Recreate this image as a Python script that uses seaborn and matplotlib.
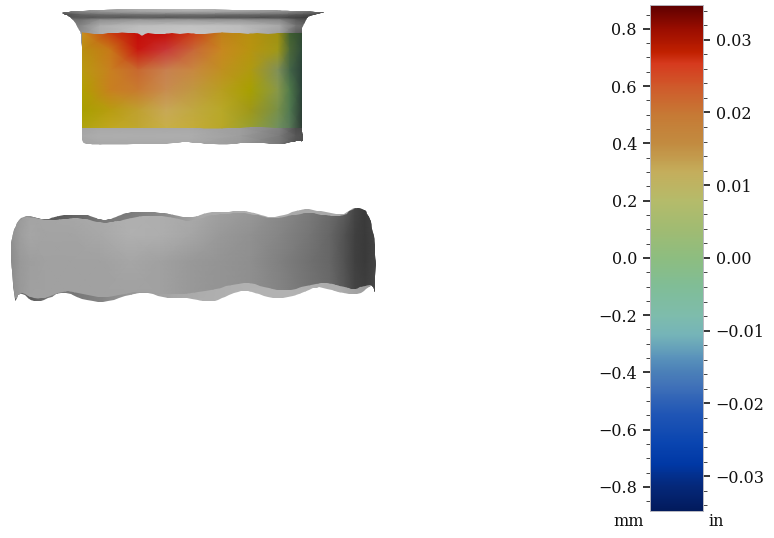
import numpy as np
import matplotlib
matplotlib.use("Agg")
import matplotlib.pyplot as plt
from matplotlib.colors import LinearSegmentedColormap, to_rgb
from matplotlib.patches import Polygon
from matplotlib.ticker import MultipleLocator
import seaborn as sns

# ---- colour scale ----
scale_limit_mm = 0.885
mm_per_inch = 25.4
scale_levels = [-0.885, -0.80, -0.72, -0.65, -0.55, -0.45, -0.40, -0.35, -0.27, -0.20, -0.10, 0.0,
                0.10, 0.20, 0.30, 0.40, 0.50, 0.60, 0.68, 0.72, 0.80, 0.885]
scale_colors = ["#021a5c", "#05287a", "#0038a5", "#0a45b0", "#1f55b5", "#3f70b8", "#4b80b8", "#5a93bb",
                "#75b4b8", "#7ebcac", "#80bd96", "#8dbd80", "#a0bb72", "#b5bb6a", "#c4ae5c", "#c28b40",
                "#c67a35", "#cf5a2b", "#d63a1e", "#c02000", "#9c0e00", "#5e0000"]

# ---- cup: grey surface ----
cup_x = [62, 80, 100, 140, 190, 240, 280, 296, 310, 324]
cup_y = [9, 12, 15, 17.5, 20, 26, 34, 128, 136, 144]
cup_gray = [
    [.50, .56, .62, .68, .72, .68, .62, .56, .50, .45],
    [.42, .52, .58, .64, .66, .62, .56, .50, .44, .38],
    [.28, .38, .42, .44, .44, .42, .40, .34, .30, .28],
    [.34, .34, .34, .34, .34, .32, .30, .26, .24, .24],
    [.46, .44, .56, .60, .60, .58, .52, .36, .30, .30],
    [.50, .52, .68, .74, .76, .74, .66, .46, .38, .36],
    [.52, .56, .68, .76, .78, .74, .62, .36, .30, .30],
    [.62, .64, .66, .66, .66, .62, .50, .30, .28, .28],
    [.66, .66, .68, .68, .68, .62, .48, .34, .30, .30],
    [.60, .64, .66, .66, .66, .60, .46, .32, .28, .28],
]
cup_outline_x = [61, 61, 68, 75, 122, 190, 257, 310, 324, 324, 316, 307, 303, 301.5, 301.5, 303, 303, 299, 292, 284, 275, 258, 242,
                 225, 208, 196, 185, 165, 142, 118, 95, 88, 82, 82, 82, 81, 78, 72, 66]
cup_outline_y = [13, 13, 11.5, 11, 9, 9, 10, 11, 12.5, 12.5, 14.5, 17, 25, 34, 128, 135, 142, 141, 142, 144, 144, 143, 143,
                 145, 144, 143, 142, 144, 144, 145, 145, 144, 143, 128, 54, 34, 27, 18, 15]

# ---- cup: coloured band ----
band_x = [82, 110, 138, 166, 194, 222, 250, 278, 290, 302]
band_y = [33, 50, 70, 90, 110, 128]
band_colors = [
    ["#c8901e", "#c84010", "#c40c08", "#c41008", "#cc4018", "#c08018", "#b89010", "#a09010", "#405f30", "#304a30"],
    ["#b89010", "#c87818", "#c81810", "#c83838", "#c86838", "#c88820", "#b89410", "#a09818", "#4c6838", "#2f4a3a"],
    ["#b89a10", "#c88020", "#c86830", "#c88050", "#c88840", "#c09020", "#b09a10", "#80905a", "#446548", "#2a4038"],
    ["#b0a000", "#c88020", "#c87a30", "#c88c50", "#c09840", "#b89e20", "#a8a000", "#88984a", "#507a4a", "#2a4038"],
    ["#a8a000", "#b89c10", "#c0a030", "#c8a858", "#c0a840", "#b8a828", "#a09818", "#78904a", "#507850", "#2a3c34"],
    ["#b0a410", "#c0a820", "#c0a830", "#c8b048", "#c4ac38", "#b8a828", "#98a030", "#709060", "#587858", "#2d3a34"],
]
band_outline_x = [82, 88, 94, 98, 103, 108, 113, 118, 122, 128, 135, 139, 142, 145, 148, 155, 165, 172, 180, 188, 196, 205, 214, 223,
                  232, 240, 248, 257, 268, 280, 290, 301.5, 301.5, 292, 275, 262, 250, 240, 228, 218, 208, 200, 150, 82]
band_outline_y = [32, 33, 33.5, 34, 34, 33, 33, 32.5, 32, 33, 33, 33.5, 36, 34, 33, 34, 34, 33, 33.5, 33, 34, 34, 33, 32,
                  33, 33, 33.5, 33, 33.5, 33, 33, 33, 128, 128, 128, 127, 127, 128, 128, 129, 129.5, 128, 128, 128]

# ---- ring: back rim ----
rim_x = [10, 30, 55, 75, 100, 135, 170, 200, 250, 300, 340, 376]
rim_y = [205, 305]
rim_gray = [
    [.60, .62, .33, .38, .46, .48, .55, .66, .68, .66, .66, .50],
    [.35, .35, .50, .48, .52, .62, .66, .68, .70, .70, .68, .60],
]
rim_outline_x = [20, 30, 38, 45, 55, 80, 92, 102, 112, 122, 132, 152, 172, 190, 210, 227, 243, 260, 273, 290, 307, 323, 343,
                 353, 363, 370, 376, 375, 375, 372, 363, 347, 323, 313, 290, 270, 253, 240, 223, 210, 190, 165, 145, 128, 105,
                 85, 63, 45, 33, 20, 15, 15, 10, 13]
rim_outline_y = [217, 216, 218, 220, 216, 214, 216, 220, 219, 214, 212, 212, 214, 218, 212, 212, 210, 214, 218, 213, 208, 212, 215,
                 208, 208, 217, 248, 293, 293, 283, 293, 295, 287, 288, 298, 298, 292, 290, 298, 302, 298, 298, 292, 295, 303,
                 300, 291, 300, 302, 291, 302, 302, 250, 232]

# ---- ring: front surface ----
ring_x = [10, 20, 30, 45, 70, 100, 130, 160, 190, 220, 250, 280, 310, 330, 345, 355, 365, 376]
ring_y = [208, 235, 262, 298]
ring_gray = [
    [.56, .60, .64, .65, .66, .67, .69, .68, .67, .63, .60, .54, .48, .42, .36, .27, .23, .29],
    [.56, .62, .65, .64, .64, .66, .69, .68, .65, .60, .57, .52, .46, .40, .32, .25, .23, .27],
    [.54, .60, .62, .63, .63, .63, .65, .63, .60, .58, .56, .50, .44, .40, .32, .25, .23, .27],
    [.56, .60, .63, .63, .63, .63, .63, .63, .60, .58, .56, .52, .46, .42, .34, .27, .25, .29],
]
ring_outline_x = [20, 38, 47, 72, 88, 102, 115, 128, 152, 178, 190, 210, 227, 243, 260, 273, 290, 307, 323, 343,
                  353, 363, 370, 376, 375, 375, 372, 353, 350, 323, 303, 283, 267, 247, 223, 203, 172, 145, 128, 105, 85, 65,
                  45, 33, 20, 15, 15, 10, 13]
ring_outline_y = [217, 218, 221, 218, 219, 223, 222, 218, 215, 218, 222, 215, 214, 212, 216, 219, 216, 212, 215, 217,
                  208, 208, 217, 248, 293, 293, 283, 290, 288, 282, 287, 291, 288, 282, 287, 292, 295, 291, 293, 298, 295, 290,
                  298, 299, 291, 302, 302, 250, 232]

# ---- tick labels ----
mm_ticks = [-0.8, -0.6, -0.4, -0.2, 0.0, 0.2, 0.4, 0.6, 0.8]
inch_ticks = [-0.03, -0.02, -0.01, 0.00, 0.01, 0.02, 0.03]
left_unit = "mm"
right_unit = "in"

sns.set_theme(style="white")
plt.rcParams["font.family"] = ["DejaVu Serif"]

W, H = 774, 538
fig = plt.figure(figsize=(W / 100, H / 100), dpi=100, facecolor="white")
ax = fig.add_axes([0, 0, 1, 1])
ax.set_axis_off()


def rounded(ox, oy, passes):
    """Corner-cut a closed outline so it renders as a soft edge."""
    pts = np.column_stack([ox, oy]).astype(float)
    for _ in range(passes):
        nxt = np.roll(pts, -1, axis=0)
        pts = np.column_stack([0.75 * pts + 0.25 * nxt, 0.25 * pts + 0.75 * nxt]).reshape(-1, 2)
    return pts


def surface(x, y, field, ox, oy, z, passes=0):
    arr = np.asarray(field, dtype=float)
    clip = Polygon(rounded(ox, oy, passes), closed=True, transform=ax.transData,
                   facecolor="none", edgecolor="none")
    ax.add_patch(clip)
    kw = dict(cmap="gray", vmin=0, vmax=1) if arr.ndim == 2 else {}
    mesh = ax.pcolormesh(x, y, arr, shading="gouraud", zorder=z, **kw)
    mesh.set_clip_path(clip)


surface(cup_x, cup_y, cup_gray, cup_outline_x, cup_outline_y, 2, passes=2)
band_rgb = [[to_rgb(c) for c in row] for row in band_colors]
surface(band_x, band_y, band_rgb, band_outline_x, band_outline_y, 3)
surface(rim_x, rim_y, rim_gray, rim_outline_x, rim_outline_y, 2, passes=2)
surface(ring_x, ring_y, ring_gray, ring_outline_x, ring_outline_y, 3, passes=2)
ax.set_xlim(0, W)
ax.set_ylim(H, 0)

# colourbar: heatmap, with two overlaid axes carrying the scales
bar_pos = [649.5 / W, 1 - 511.3 / H, (703 - 649.5) / W, (511.3 - 4.5) / H]
ax_bar = fig.add_axes(bar_pos)
norm_levels = (np.array(scale_levels) + scale_limit_mm) / (2 * scale_limit_mm)
cmap = LinearSegmentedColormap.from_list("deviation", list(zip(norm_levels, scale_colors)), N=512)
gradient = np.linspace(scale_limit_mm, -scale_limit_mm, 500).reshape(-1, 1)
sns.heatmap(gradient, ax=ax_bar, cmap=cmap, vmin=-scale_limit_mm, vmax=scale_limit_mm, cbar=False,
            xticklabels=False, yticklabels=False, rasterized=True)

ax_mm = fig.add_axes(bar_pos, facecolor="none")
ax_mm.set_ylim(-scale_limit_mm, scale_limit_mm)
ax_mm.set_xticks([])
ax_mm.set_yticks(mm_ticks)
ax_mm.yaxis.set_minor_locator(MultipleLocator(0.05))
ax_mm.tick_params(axis="y", which="major", left=True, length=5, width=1.1, color="black", pad=4,
                  labelsize=11.5, labelcolor="#111111")
ax_mm.tick_params(axis="y", which="minor", left=True, length=3, width=0.7, color="#444444")

ax_in = ax_mm.twinx()
ax_in.set_ylim(-scale_limit_mm / mm_per_inch, scale_limit_mm / mm_per_inch)
ax_in.set_yticks(inch_ticks)
ax_in.set_yticklabels([f"{v:.2f}".replace("-", "\u2212") for v in inch_ticks])
ax_in.yaxis.set_minor_locator(MultipleLocator(0.002))
ax_in.tick_params(axis="y", which="major", right=True, length=5, width=1.1, color="black", pad=4,
                  labelsize=11.5, labelcolor="#111111")
ax_in.tick_params(axis="y", which="minor", right=True, length=3, width=0.7, color="#444444")
for a in (ax_mm, ax_in):
    for s in a.spines.values():
        s.set_color("#b8b8c0")
        s.set_linewidth(0.6)

ax.text(629, 522, left_unit, ha="center", va="center", fontsize=11.5, color="#111111")
ax.text(716, 522, right_unit, ha="center", va="center", fontsize=11.5, color="#111111")

fig.savefig("out.png", dpi=100)
